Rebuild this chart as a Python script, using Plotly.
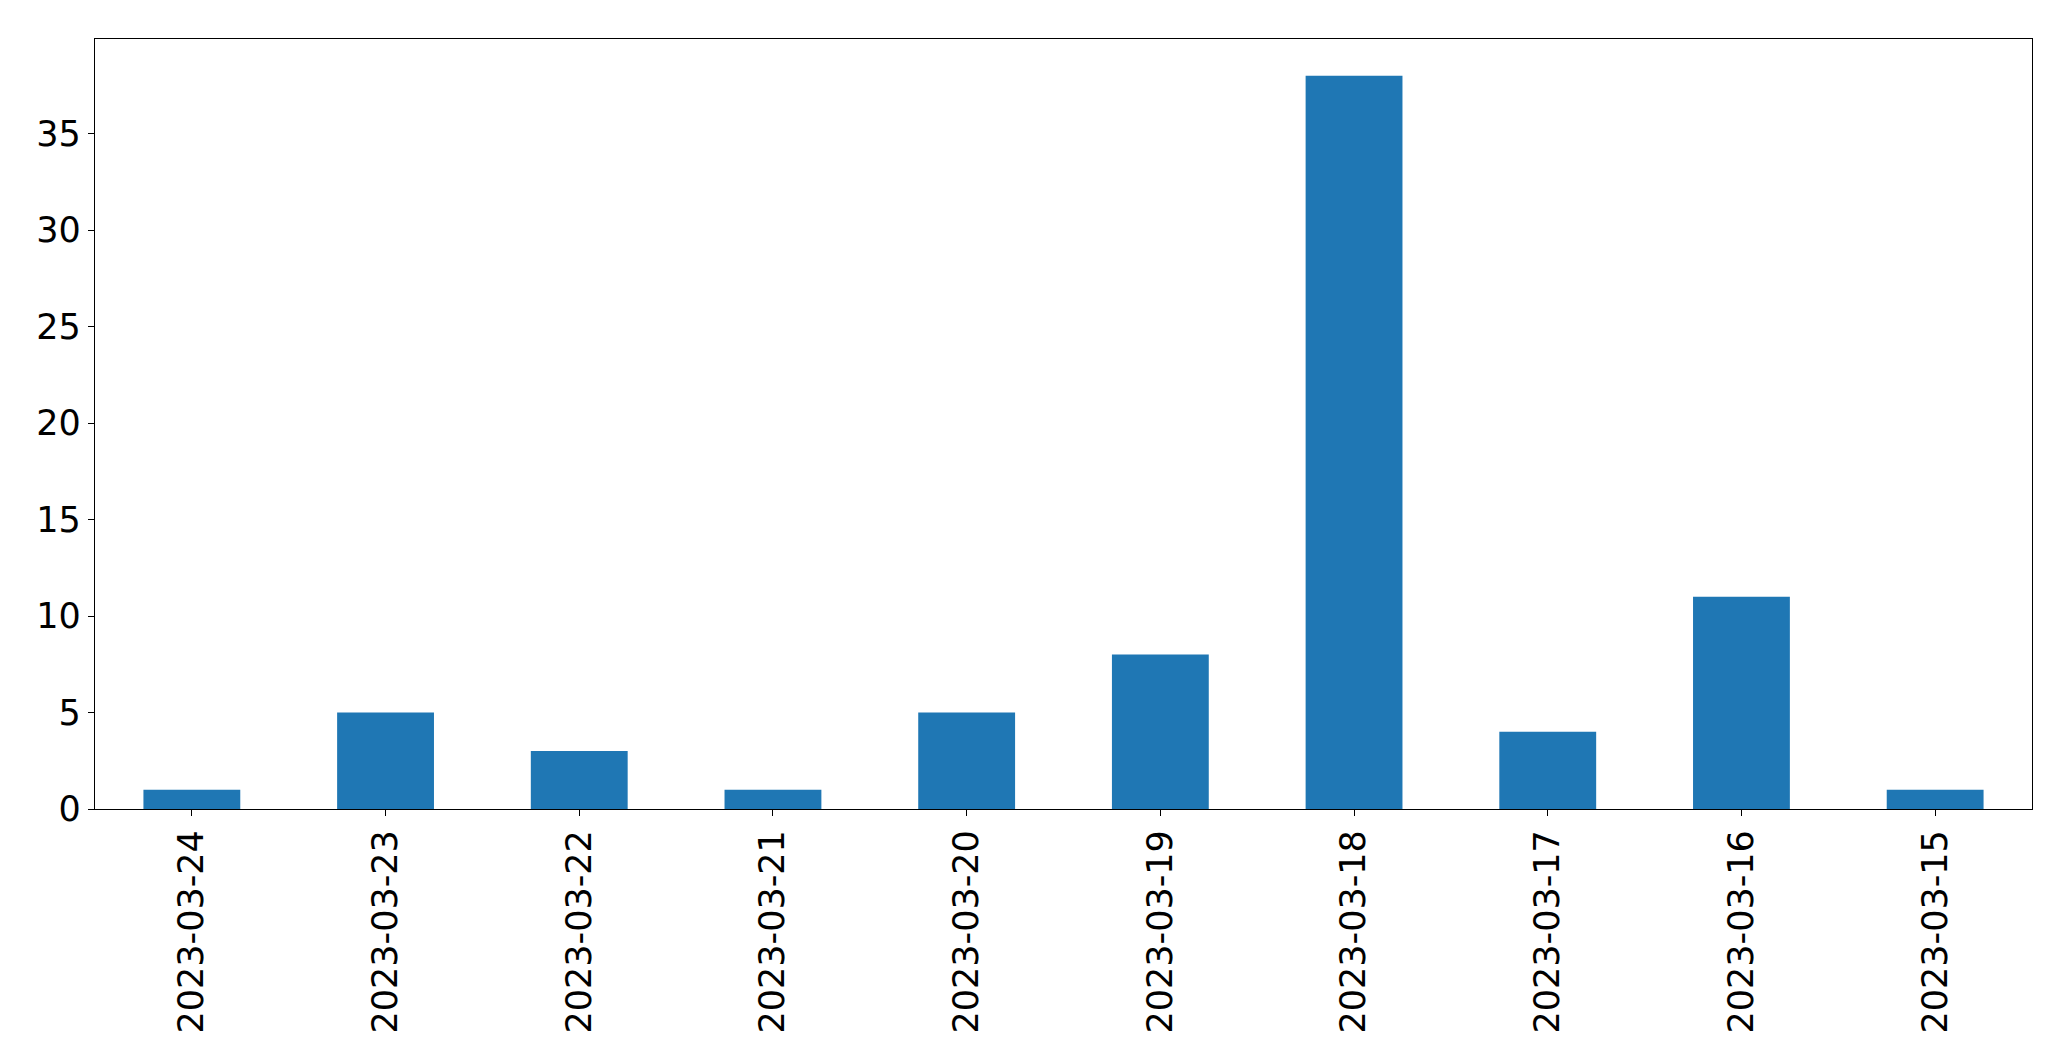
import plotly.graph_objects as go

dates = ["2023-03-24", "2023-03-23", "2023-03-22", "2023-03-21", "2023-03-20",
         "2023-03-19", "2023-03-18", "2023-03-17", "2023-03-16", "2023-03-15"]
counts = [1, 5, 3, 1, 5, 8, 38, 4, 11, 1]
y_ticks = [0, 5, 10, 15, 20, 25, 30, 35]

fig = go.Figure(go.Bar(x=dates, y=counts, marker_color="#1f77b4",
                       marker_line_width=0, width=0.5))

font = dict(family="DejaVu Sans", size=35, color="black")
fig.update_layout(
    width=2063, height=1053,
    margin=dict(l=87, r=39, t=31, b=252, pad=0),
    plot_bgcolor="white", paper_bgcolor="white",
    showlegend=False, bargap=0.5,
)
fig.update_xaxes(type="category", range=[-0.5, 9.5], tickangle=-90,
                 showline=True, mirror=True, linecolor="black", linewidth=1.3,
                 ticks="outside", ticklen=6, tickwidth=1.3, tickcolor="black",
                 tickfont=font, showgrid=False)
fig.update_yaxes(range=[0, 39.9], tickvals=y_ticks,
                 showline=True, mirror=True, linecolor="black", linewidth=1.3,
                 ticks="outside", ticklen=6, tickwidth=1.3, tickcolor="black",
                 tickfont=font, showgrid=False, zeroline=False)

fig.write_html("out.html")
